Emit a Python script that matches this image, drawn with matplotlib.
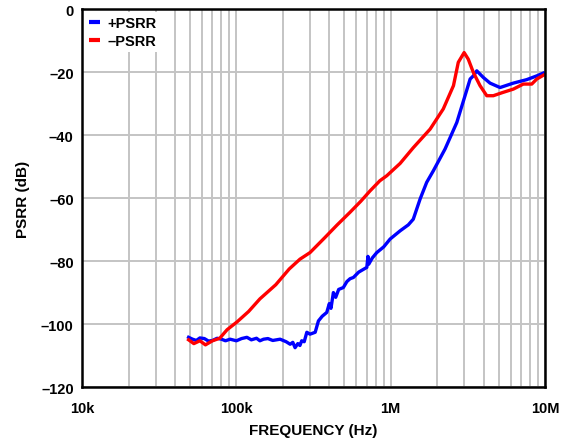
import numpy as np
import matplotlib.pyplot as plt
from matplotlib.ticker import FixedLocator, NullFormatter

plt.rcParams['font.family'] = ['Liberation Sans', 'DejaVu Sans']
plt.rcParams['font.weight'] = 'bold'

# --- data (frequency in Hz, PSRR in dB) ---
pos_freq = [49e3, 52e3, 55e3, 58e3, 62e3, 66e3, 70e3, 75e3, 80e3, 85e3, 91e3, 100e3, 108e3,
            117e3, 125e3, 135e3, 142e3, 150e3, 160e3, 172e3, 192e3, 210e3, 223e3, 232e3,
            240e3, 250e3, 258e3, 265e3, 275e3, 286e3, 300e3, 324e3, 340e3, 360e3, 385e3,
            400e3, 410e3, 425e3, 440e3, 460e3, 493e3, 520e3, 545e3, 573e3, 620e3, 700e3,
            712e3, 720e3, 760e3, 812e3, 900e3, 991e3, 1.15e6, 1.30e6, 1.40e6, 1.55e6,
            1.71e6, 1.89e6, 2.25e6, 2.68e6, 3.03e6, 3.27e6, 3.43e6, 3.61e6, 3.98e6, 4.40e6,
            5.11e6, 6.23e6, 7.60e6, 8.84e6, 9.75e6]
pos_psrr = [-104.2, -104.8, -105.2, -104.4, -104.6, -105.4, -105.2, -104.5, -104.8, -105.3,
            -104.8, -105.3, -104.6, -104.2, -105.0, -104.5, -105.3, -104.8, -104.6, -105.2,
            -104.8, -105.6, -106.4, -105.8, -107.5, -106.2, -106.8, -105.3, -105.6, -102.6,
            -103.2, -102.6, -99.0, -97.5, -96.3, -93.5, -95.0, -90.0, -91.5, -89.0, -88.4,
            -86.5, -85.6, -85.2, -83.5, -82.0, -78.5, -81.0, -79.0, -77.3, -75.5, -73.0,
            -70.4, -68.5, -66.7, -60.3, -55.0, -51.3, -44.4, -36.0, -27.5, -22.2, -21.2,
            -19.6, -21.7, -23.5, -24.9, -23.5, -22.4, -21.2, -20.3]

neg_freq = [49e3, 53e3, 58e3, 63e3, 70e3, 78e3, 87e3, 101e3, 120e3, 142e3, 180e3, 220e3,
            258e3, 300e3, 375e3, 450e3, 545e3, 640e3, 735e3, 850e3, 943e3, 1.15e6, 1.40e6,
            1.80e6, 2.19e6, 2.55e6, 2.74e6, 2.99e6, 3.18e6, 3.43e6, 3.79e6, 4.19e6, 4.62e6,
            5.30e6, 6.23e6, 7.23e6, 8.2e6, 8.84e6, 9.75e6]
neg_psrr = [-105.0, -106.2, -105.3, -106.6, -105.3, -104.5, -101.8, -99.3, -96.0, -92.0,
            -87.5, -82.5, -79.4, -77.3, -72.5, -68.5, -64.5, -61.0, -57.7, -54.5, -52.9,
            -49.0, -44.0, -38.1, -31.7, -24.3, -16.9, -13.8, -15.9, -20.1, -24.3, -27.5,
            -27.5, -26.5, -25.4, -23.8, -23.8, -22.2, -21.0]

y_ticks = [0, -20, -40, -60, -80, -100, -120]
x_ticks = [1e4, 1e5, 1e6, 1e7]
x_tick_labels = ['10k', '100k', '1M', '10M']

fig = plt.figure(figsize=(5.66, 4.39), dpi=100)
ax = fig.add_axes([0.145, 0.116, 0.818, 0.861])

ax.plot(pos_freq, pos_psrr, color='#0000ff', linewidth=2.4, label='+PSRR')
ax.plot(neg_freq, neg_psrr, color='#ff0000', linewidth=2.4, label='\u2013PSRR')

ax.set_xscale('log')
ax.set_xlim(1e4, 1e7)
ax.set_ylim(-120, 0)

ax.xaxis.set_major_locator(FixedLocator(x_ticks))
ax.set_xticklabels(x_tick_labels)
minor = [m * d for d in (1e4, 1e5, 1e6) for m in range(2, 10)]
ax.xaxis.set_minor_locator(FixedLocator(minor))
ax.xaxis.set_minor_formatter(NullFormatter())
ax.set_yticks(y_ticks)
ax.set_yticklabels([str(v).replace('-', '\u2013') for v in y_ticks])

ax.grid(True, which='both', color='#c4c4c4', linewidth=1.4)
ax.set_axisbelow(True)
ax.tick_params(axis='y', which='both', length=0, labelsize=10.5, pad=6)
ax.tick_params(axis='x', which='both', length=0, labelsize=10.5, pad=10)
for s in ax.spines.values():
    s.set_linewidth(1.8)
    s.set_zorder(5)

ax.set_xlabel('FREQUENCY (Hz)', fontsize=11, fontweight='bold', labelpad=6)
ax.set_ylabel('PSRR (dB)', fontsize=11, fontweight='bold', labelpad=8)

leg = ax.legend(loc='upper left', fontsize=10.5, handlelength=0.75, handletextpad=0.5,
                borderaxespad=0.2, labelspacing=0.25, frameon=True, fancybox=False,
                framealpha=1, facecolor='white', edgecolor='none', borderpad=0.3)
for h in leg.get_lines():
    h.set_linewidth(3)
    h.set_solid_capstyle('butt')

fig.savefig('out.png', dpi=100)
